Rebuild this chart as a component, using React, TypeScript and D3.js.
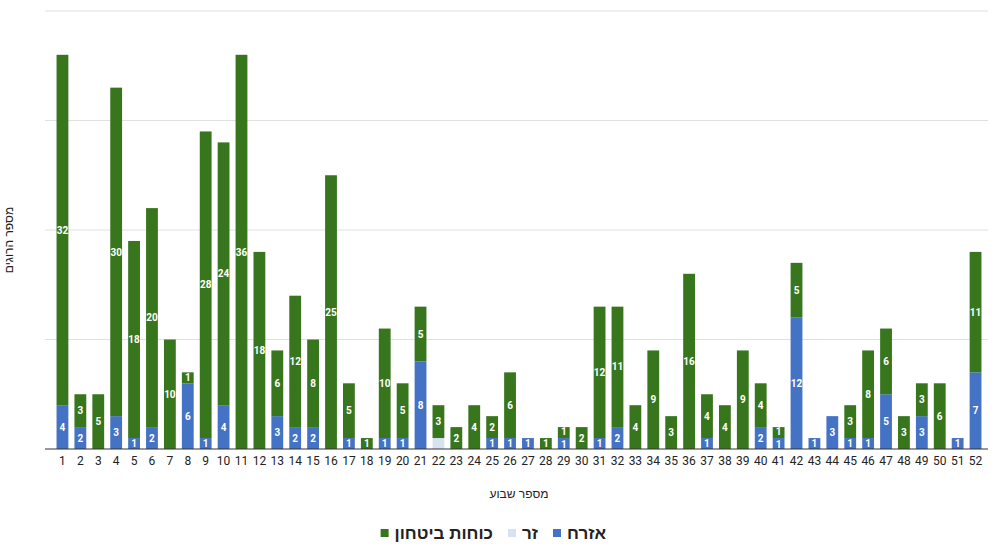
import { useEffect, useRef } from "react";
import * as d3 from "d3";

// week numbers 1..52
const weeks = [
  1, 2, 3, 4, 5, 6, 7, 8, 9, 10, 11, 12, 13, 14, 15, 16, 17, 18, 19, 20, 21, 22, 23, 24, 25, 26,
  27, 28, 29, 30, 31, 32, 33, 34, 35, 36, 37, 38, 39, 40, 41, 42, 43, 44, 45, 46, 47, 48, 49, 50, 51, 52,
];
const civilians = [
  4, 2, 0, 3, 1, 2, 0, 6, 1, 4, 0, 0, 3, 2, 2, 0, 1, 0, 1, 1, 8, 0, 0, 0, 1, 1,
  1, 0, 1, 0, 1, 2, 0, 0, 0, 0, 1, 0, 0, 2, 1, 12, 1, 3, 1, 1, 5, 0, 3, 0, 1, 7,
];
const foreigners = [
  0, 0, 0, 0, 0, 0, 0, 0, 0, 0, 0, 0, 0, 0, 0, 0, 0, 0, 0, 0, 0, 1, 0, 0, 0, 0,
  0, 0, 0, 0, 0, 0, 0, 0, 0, 0, 0, 0, 0, 0, 0, 0, 0, 0, 0, 0, 0, 0, 0, 0, 0, 0,
];
const security = [
  32, 3, 5, 30, 18, 20, 10, 1, 28, 24, 36, 18, 6, 12, 8, 25, 5, 1, 10, 5, 5, 3, 2, 4, 2, 6,
  0, 1, 1, 2, 12, 11, 4, 9, 3, 16, 4, 4, 9, 4, 1, 5, 0, 0, 3, 8, 6, 3, 3, 6, 0, 11,
];
const yTicks = [0, 10, 20, 30, 40];

const seriesKeys = ["civ", "foreign", "sec"];
const seriesNames = ["אזרח", "זר", "כוחות ביטחון"];
const seriesColors = ["#4472c4", "#d9e2f3", "#38761d"];

export default function App() {
  const svgRef = useRef(null);

  useEffect(() => {
    const width = 995;
    const height = 546;
    const margin = { top: 11, right: 10.5, bottom: 97, left: 53.5 };

    const svg = d3.select(svgRef.current);
    svg.selectAll("*").remove();

    const rows = weeks.map((w, i) => ({
      week: String(w),
      civ: civilians[i],
      foreign: foreigners[i],
      sec: security[i],
    }));

    const x = d3.scaleBand()
      .domain(rows.map(d => d.week))
      .range([margin.left, width - margin.right])
      .paddingInner(0.34)
      .paddingOuter(0.17);

    const y = d3.scaleLinear()
      .domain([0, 40])
      .range([height - margin.bottom, margin.top]);

    // gridlines
    svg.append("g")
      .selectAll("line")
      .data(yTicks.slice(1))
      .join("line")
      .attr("x1", 45)
      .attr("x2", width - 7)
      .attr("y1", d => y(d))
      .attr("y2", d => y(d))
      .attr("stroke", "#e0e0e0")
      .attr("stroke-width", 1);

    const stacked = d3.stack().keys(seriesKeys)(rows);

    const groups = svg.append("g")
      .selectAll("g")
      .data(stacked)
      .join("g")
      .attr("fill", (_, i) => seriesColors[i]);

    groups.selectAll("rect")
      .data(d => d.filter(s => s[1] - s[0] > 0))
      .join("rect")
      .attr("x", d => x(d.data.week))
      .attr("y", d => y(d[1]))
      .attr("width", x.bandwidth())
      .attr("height", d => y(d[0]) - y(d[1]));

    // value labels (not for the light series); nudge apart when two 1-unit segments touch
    groups.filter((_, i) => i !== 1)
      .selectAll("text")
      .data((d, gi) => d.filter(s => s[1] - s[0] > 0).map(s => ({ s, gi })))
      .join("text")
      .attr("x", ({ s }) => x(s.data.week) + x.bandwidth() / 2)
      .attr("y", ({ s, gi }) => {
        const mid = (y(s[0]) + y(s[1])) / 2;
        const tight = s.data.civ === 1 && s.data.sec === 1;
        if (!tight) return mid;
        return gi === 0 ? mid + 1 : mid - 1;
      })
      .attr("dy", "0.36em")
      .attr("text-anchor", "middle")
      .attr("fill", "#ffffff")
      .style("font-family", "Roboto, Arial, sans-serif")
      .style("font-size", "10px")
      .style("font-weight", "bold")
      .text(({ s }) => s[1] - s[0]);

    // baseline
    svg.append("line")
      .attr("x1", 45)
      .attr("x2", width - 7)
      .attr("y1", y(0))
      .attr("y2", y(0))
      .attr("stroke", "#333")
      .attr("stroke-width", 1);

    // x axis labels
    svg.append("g")
      .attr("transform", `translate(0,${y(0)})`)
      .call(d3.axisBottom(x).tickSize(0).tickPadding(7))
      .call(g => g.select(".domain").remove())
      .selectAll("text")
      .style("font-family", "Roboto, Arial, sans-serif")
      .style("font-size", "12px")
      .attr("fill", "#222");

    // axis titles
    svg.append("text")
      .attr("x", (margin.left + width - margin.right) / 2)
      .attr("y", 498)
      .attr("text-anchor", "middle")
      .style("font-family", "Arial, 'Liberation Sans', sans-serif")
      .style("font-size", "12px")
      .attr("fill", "#222")
      .text("מספר שבוע");

    svg.append("text")
      .attr("transform", `translate(13,${(margin.top + y(0)) / 2 + 10}) rotate(-90)`)
      .attr("text-anchor", "middle")
      .style("font-family", "Arial, 'Liberation Sans', sans-serif")
      .style("font-size", "12px")
      .attr("fill", "#222")
      .text("מספר הרוגים");

    // legend (right to left)
    const legend = svg.append("g").attr("transform", "translate(0,533)");
    let cursor = 606;
    seriesNames.forEach((name, i) => {
      const t = legend.append("text")
        .attr("x", cursor)
        .attr("y", 0)
        .attr("dy", "0.35em")
        .attr("text-anchor", "end")
        .style("font-family", "Arial, 'Liberation Sans', sans-serif")
        .style("font-size", "17px")
        .style("font-weight", "bold")
        .attr("fill", "#222")
        .text(name);
      const w = (t.node() as SVGTextElement).getComputedTextLength();
      cursor -= w + 6;
      legend.append("rect")
        .attr("x", cursor - 8)
        .attr("y", -4)
        .attr("width", 8)
        .attr("height", 8)
        .attr("fill", seriesColors[i]);
      cursor -= 8 + 15;
    });
  }, []);

  return (
    <svg
      ref={svgRef}
      width={995}
      height={546}
      style={{ position: "absolute", left: 0, top: 0, background: "#fff" }}
    />
  );
}
